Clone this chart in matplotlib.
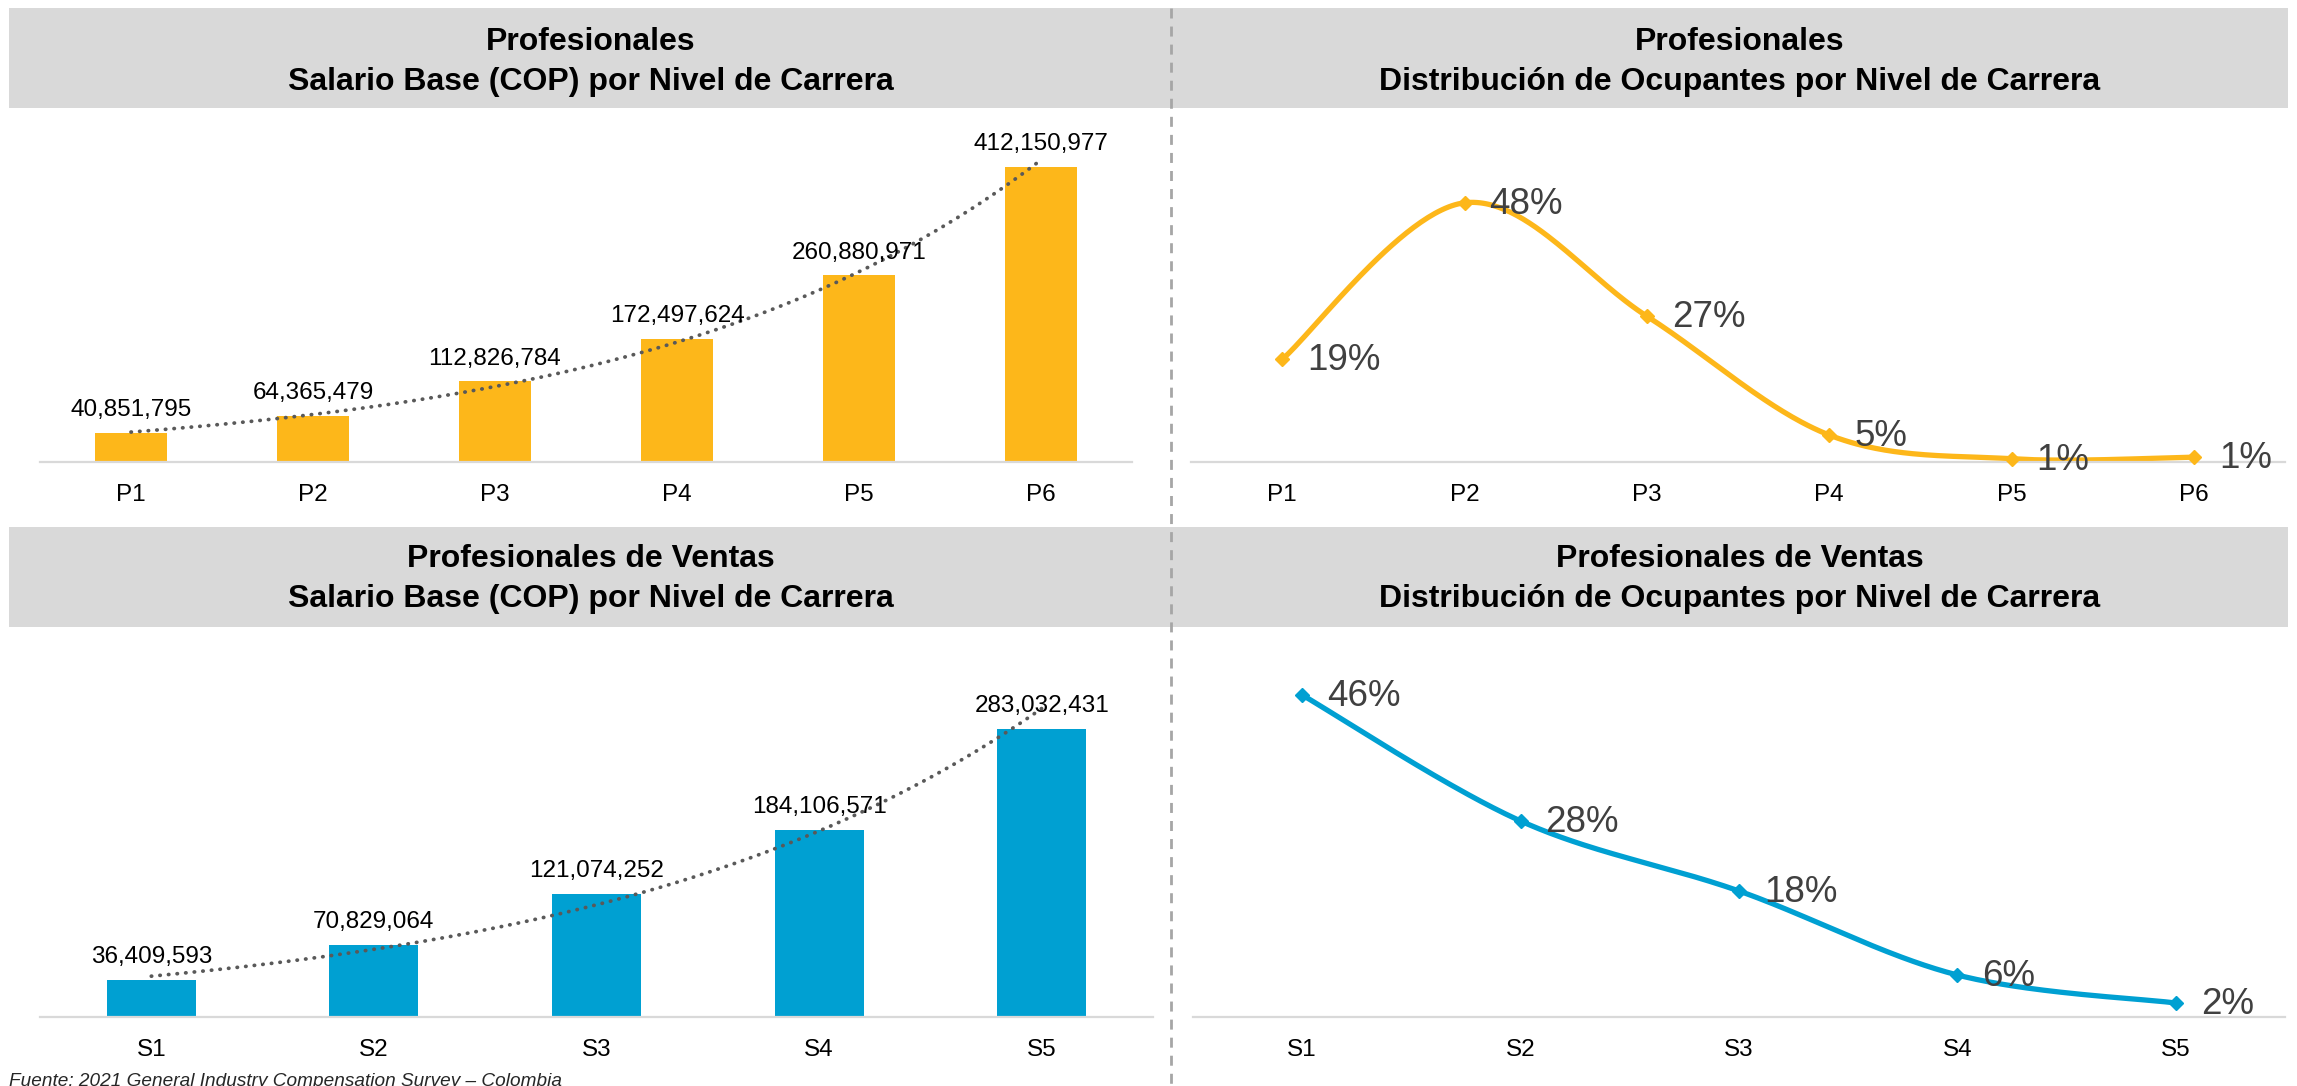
import numpy as np
import matplotlib
matplotlib.use('Agg')
from matplotlib import pyplot as plt
from matplotlib.patches import Rectangle
from matplotlib.lines import Line2D

plt.rcParams['font.family'] = ['Liberation Sans', 'DejaVu Sans']

W, H = 2297, 1086

# Data
prof_levels = ['P1', 'P2', 'P3', 'P4', 'P5', 'P6']
prof_salary = [40851795, 64365479, 112826784, 172497624, 260880971, 412150977]
prof_share = [19, 48, 27, 5, 0.6, 0.9]

sales_levels = ['S1', 'S2', 'S3', 'S4', 'S5']
sales_salary = [36409593, 70829064, 121074252, 184106571, 283032431]
sales_share = [46, 28, 18, 6, 2]

titles = [('Profesionales', 'Salario Base (COP) por Nivel de Carrera'),
          ('Profesionales', 'Distribución de Ocupantes por Nivel de Carrera'),
          ('Profesionales de Ventas', 'Salario Base (COP) por Nivel de Carrera'),
          ('Profesionales de Ventas', 'Distribución de Ocupantes por Nivel de Carrera')]
source = 'Fuente: 2021 General Industry Compensation Survey \u2013 Colombia'

yellow = '#FDB71A'
blue = '#00A0D2'
gray_band = '#D9D9D9'


def fx(px):
    return px / W


def fy(py):
    return 1 - py / H


def rect(x0, x1, ytop, ybot):
    return [fx(x0), fy(ybot), fx(x1) - fx(x0), fy(ytop) - fy(ybot)]


def smooth(x, y, n=60):
    # Excel-like smoothed line (Catmull-Rom as cubic bezier)
    P = np.column_stack([x, y]).astype(float)
    P = np.vstack([P[0], P, P[-1]])
    t = np.linspace(0, 1, n)[:, None]
    out = []
    for j in range(len(x) - 1):
        p0 = P[j + 1]
        p3 = P[j + 2]
        c1 = p0 + (P[j + 2] - P[j]) / 6
        c2 = p3 - (P[j + 3] - P[j + 1]) / 6
        seg = ((1 - t)**3 * p0 + 3 * (1 - t)**2 * t * c1 +
               3 * (1 - t) * t**2 * c2 + t**3 * p3)
        out.append(seg)
    out = np.vstack(out)
    return out[:, 0], out[:, 1]


def style_axis(ax, levels, ymax):
    n = len(levels)
    ax.set_xlim(-0.5, n - 0.5)
    ax.set_ylim(0, ymax)
    for s in ['top', 'left', 'right']:
        ax.spines[s].set_visible(False)
    ax.spines['bottom'].set_color('#D9D9D9')
    ax.spines['bottom'].set_linewidth(1.6)
    ax.set_yticks([])
    ax.set_xticks(np.arange(n), levels)
    ax.tick_params(axis='x', length=0, pad=16, labelsize=17.5)
    ax.patch.set_alpha(0)


def bar_panel(r, levels, values, color, ymax):
    ax = fig.add_axes(r)
    x = np.arange(len(levels))
    ax.bar(x, values, width=0.4, color=color, zorder=2)
    # exponential trendline
    k, b = np.polyfit(x, np.log(values), 1)
    xt = np.linspace(0, len(x) - 1, 300)
    ax.plot(xt, np.exp(b + k * xt), color='#595959', lw=2.7,
            ls=(0, (0.1, 2.2)), dash_capstyle='round', zorder=3)
    for xi, v in zip(x, values):
        ax.annotate(f'{v:,}', (xi, v), xytext=(0, 12),
                    textcoords='offset points', ha='center',
                    va='baseline', fontsize=17.5, zorder=4)
    style_axis(ax, levels, ymax)
    return ax


def line_panel(r, levels, values, color, ymax):
    ax = fig.add_axes(r)
    x = np.arange(len(levels))
    sx, sy = smooth(x, values)
    ax.plot(sx, sy, color=color, lw=3.8, solid_capstyle='round',
            zorder=2, clip_on=False)
    ax.plot(x, values, ls='none', marker='D', ms=7, color=color,
            zorder=3, clip_on=False)
    for xi, v in zip(x, values):
        ax.annotate(f'{v:.0f}%', (xi, v), xytext=(18, -1),
                    textcoords='offset points', ha='left', va='center',
                    fontsize=26.5, color='#404040', zorder=4)
    style_axis(ax, levels, ymax)
    return ax


fig = plt.figure(figsize=(W / 100, H / 100), dpi=100)

# header bands
for ytop, ybot in [(8, 108), (527, 627)]:
    x0, y0, w, h = rect(9, 2288, ytop, ybot)
    fig.patches.append(Rectangle((x0, y0), w, h, transform=fig.transFigure,
                                 facecolor=gray_band, edgecolor='none',
                                 zorder=0))

# header texts
centers = [(591, 42), (1740, 42), (591, 559), (1740, 559)]
for (cx, cy), (t1, t2) in zip(centers, titles):
    fig.text(fx(cx), fy(cy), t1, ha='center', va='center', fontsize=23,
             weight='bold')
    fig.text(fx(cx), fy(cy + 40), t2, ha='center', va='center',
             fontsize=23, weight='bold')

# panels
bar_panel(rect(40, 1132, 115, 462), prof_levels, prof_salary, yellow,
          (462 - 115) / 0.7158 * 1e6)
line_panel(rect(1191, 2285, 115, 462), prof_levels, prof_share, yellow,
           (462 - 115) / 5.4)
bar_panel(rect(40, 1153, 660, 1017), sales_levels, sales_salary, blue,
          (1017 - 660) / 1.018 * 1e6)
line_panel(rect(1193, 2285, 660, 1017), sales_levels, sales_share, blue,
           (1017 - 660) / 7.0)

# dashed divider
fig.lines.append(Line2D([fx(1171), fx(1171)], [fy(8), 0],
                        transform=fig.transFigure, color='#A6A6A6', lw=2,
                        dashes=(3.6, 2.9), zorder=5))

fig.text(fx(9), fy(1081), source, ha='left', va='center', fontsize=13.7,
         style='italic', color='#262626')

fig.savefig('out.png', dpi=100)
